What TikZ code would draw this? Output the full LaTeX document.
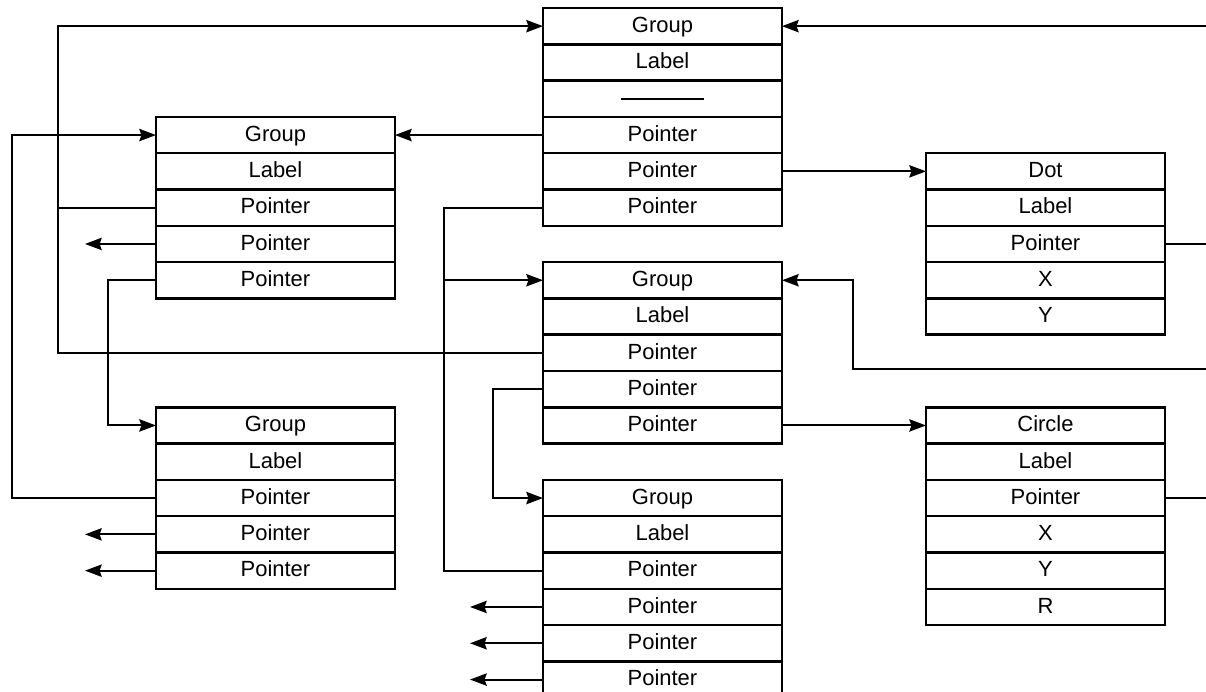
\documentclass[tikz,border=0pt]{standalone}
\usepackage{fontspec}
\setmainfont{Liberation Sans}
\usepackage{tikz}
\usetikzlibrary{arrows.meta,positioning,calc}

\begin{document}
\begin{tikzpicture}[x=0.02cm, y=-0.02cm,
        cell/.style={draw, line width=1.4pt, minimum width=4.78cm, minimum height=0.726cm,
            inner sep=0pt, outer sep=0pt, anchor=north west,
            text height=0.72em, text depth=0pt, font=\fontsize{12.5}{14}\selectfont},
        wire/.style={line width=1.1pt},
        link/.style={wire, -{Stealth[length=9.5pt,width=7pt,inset=1.2pt]}}]
        \clip (0,0) rectangle (1206,691);

        % records: name / left edge / first row / fields
        \foreach \r/\x/\k/\fields in {a/543/0/{Group,Label,{},Pointer,Pointer,Pointer},
                b/156/3/{Group,Label,Pointer,Pointer,Pointer},
                c/926/4/{Dot,Label,Pointer,X,Y},
                d/543/7/{Group,Label,Pointer,Pointer,Pointer},
                e/156/11/{Group,Label,Pointer,Pointer,Pointer},
                f/543/13/{Group,Label,Pointer,Pointer,Pointer,Pointer},
                g/926/11/{Circle,Label,Pointer,X,Y,R}} {
            \foreach \t [count=\i] in \fields {
                \node[cell] (\r\i) at (\x, {8+36.3*(\k+\i-1)}) {\t};
            }
        }
        \draw[line width=1pt] ([xshift=-0.83cm]a3.center) -- ([xshift=0.83cm]a3.center);

        % bus lines and loose ends
        \coordinate (busA) at (58,0);
        \coordinate (busB) at (12,0);
        \coordinate (busC) at (108,0);
        \coordinate (busD) at (444,0);
        \coordinate (busE) at (493,0);
        \coordinate (busF) at (853,0);
        \coordinate (tipL) at (85,0);
        \coordinate (tipM) at (470,0);
        \coordinate (rim) at (1206,0);
        \coordinate (backD) at (1206,369);

        \draw[link] (d3.west) -| (busA |- a1.west) -- (a1.west);
        \draw[wire] (b3.west) -- (b3.west -| busA);
        \draw[link] (rim |- a1.east) -- (a1.east);
        \draw[link] (a4.west) -- (b1.east);
        \draw[link] (a5.east) -- (c1.west);
        \draw[wire] (a6.west) -| (busD |- f3.west) -- (f3.west);
        \draw[link] (d1.west -| busD) -- (d1.west);
        \draw[link] (b4.west) -- (b4.west -| tipL);
        \draw[link] (b5.west) -| (busC |- e1.west) -- (e1.west);
        \draw[link] (e3.west) -| (busB |- b1.west) -- (b1.west);
        \foreach \n in {e4,e5}
            \draw[link] (\n.west) -- (\n.west -| tipL);
        \draw[link] (backD) -| (busF |- d1.east) -- (d1.east);
        \draw[wire] (c3.east) -- (c3.east -| rim);
        \draw[wire] (g3.east) -- (g3.east -| rim);
        \draw[link] (d4.west) -| (busE |- f1.west) -- (f1.west);
        \draw[link] (d5.east) -- (g1.west);
        \foreach \n in {f4,f5,f6}
            \draw[link] (\n.west) -- (\n.west -| tipM);
    \end{tikzpicture}
\end{document}
